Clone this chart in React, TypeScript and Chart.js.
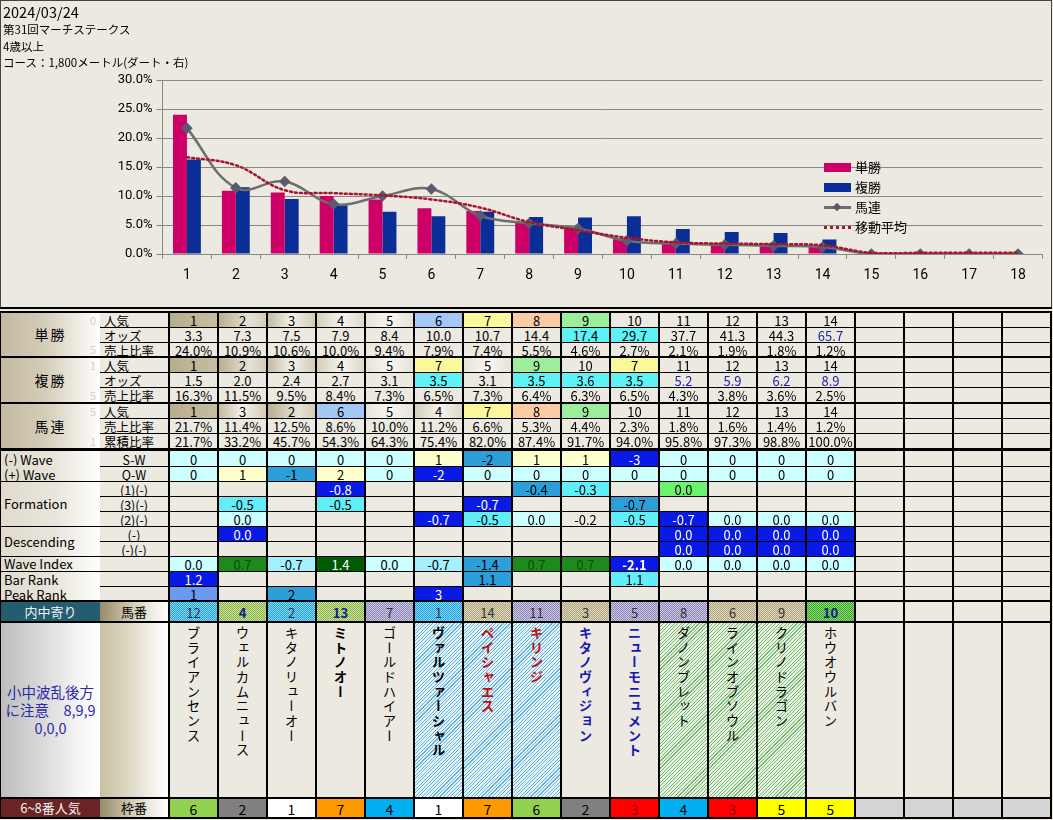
import React, { useEffect, useRef } from 'react';
import { Chart, registerables } from 'chart.js';

Chart.register(...registerables);

// ---------------- chart data ----------------
const categories = ['1', '2', '3', '4', '5', '6', '7', '8', '9', '10', '11', '12', '13', '14', '15', '16', '17', '18'];
const winShare = [24.0, 10.9, 10.6, 10.0, 9.4, 7.9, 7.4, 5.5, 4.6, 2.7, 2.1, 1.9, 1.8, 1.2, null, null, null, null];
const placeShare = [16.3, 11.5, 9.5, 8.4, 7.3, 6.5, 7.3, 6.4, 6.3, 6.5, 4.3, 3.8, 3.6, 2.5, null, null, null, null];
const quinellaShare = [21.7, 11.4, 12.5, 8.6, 10.0, 11.2, 6.6, 5.3, 4.4, 2.3, 1.8, 1.6, 1.4, 1.2, 0, 0, 0, 0];
const movingAverage = [16.7, 15.3, 11.0, 10.5, 10.1, 9.4, 8.0, 5.5, 4.1, 2.8, 2.0, 1.8, 1.7, 1.5, 0.2, 0.2, 0.2, 0.2];
const yAxisMax = 30;
const yAxisStep = 5;
const seriesNames = ['単勝', '複勝', '馬連', '移動平均'];

// ---------------- header texts ----------------
const titleLines = ['2024/03/24', '第31回マーチステークス', '4歳以上', 'コース：1,800メートル(ダート・右)'];

// ---------------- table data ----------------
const groupLabels = ['単勝', '複勝', '馬連'];
const upperSubLabels = ['人気', 'オッズ', '売上比率', '人気', 'オッズ', '売上比率', '人気', '売上比率', '累積比率'];
const faintDigits = ['0', '', '5', '1', '', '5', '5', '', '1'];
const winPopularity = [1, 2, 3, 4, 5, 6, 7, 8, 9, 10, 11, 12, 13, 14];
const winOdds = [3.3, 7.3, 7.5, 7.9, 8.4, 10.0, 10.7, 14.4, 17.4, 29.7, 37.7, 41.3, 44.3, 65.7];
const placePopularity = [1, 2, 3, 4, 5, 7, 5, 9, 10, 7, 11, 12, 13, 14];
const placeOdds = [1.5, 2.0, 2.4, 2.7, 3.1, 3.5, 3.1, 3.5, 3.6, 3.5, 5.2, 5.9, 6.2, 8.9];
const quinellaPopularity = [1, 3, 2, 6, 5, 4, 7, 8, 9, 10, 11, 12, 13, 14];
const quinellaCumulative = [21.7, 33.2, 45.7, 54.3, 64.3, 75.4, 82.0, 87.4, 91.7, 94.0, 95.8, 97.3, 98.8, 100.0];

const lowerLabels = ['(-) Wave', '(+) Wave', 'Formation', 'Descending', 'Wave Index', 'Bar Rank', 'Peak Rank'];
const lowerSubLabels = ['S-W', 'Q-W', '(1)(-)', '(3)(-)', '(2)(-)', '(-)', '(-)(-)', '', '', ''];
const sWave = [0, 0, 0, 0, 0, 1, -2, 1, 1, -3, 0, 0, 0, 0];
const qWave = [0, 1, -1, 2, 0, -2, 0, 0, 0, 0, 0, 0, 0, 0];
const formation1 = [null, null, null, -0.8, null, null, null, -0.4, -0.3, null, 0.0, null, null, null];
const formation3 = [null, -0.5, null, -0.5, null, null, -0.7, null, null, -0.7, null, null, null, null];
const formation2 = [null, 0.0, null, null, null, -0.7, -0.5, 0.0, -0.2, -0.5, -0.7, 0.0, 0.0, 0.0];
const descending1 = [null, 0.0, null, null, null, null, null, null, null, null, 0.0, 0.0, 0.0, 0.0];
const descending2 = [null, null, null, null, null, null, null, null, null, null, 0.0, 0.0, 0.0, 0.0];
const waveIndex = [0.0, 0.7, -0.7, 1.4, 0.0, -0.7, -1.4, 0.7, 0.7, -2.1, 0.0, 0.0, 0.0, 0.0];
const barRank = [1.2, null, null, null, null, null, 1.1, null, null, 1.1, null, null, null, null];
const peakRank = [1, null, 2, null, null, 3, null, null, null, null, null, null, null, null];

const horseNumbers = [12, 4, 2, 13, 7, 1, 14, 11, 3, 5, 8, 6, 9, 10];
const horseNames = ['ブライアンセンス', 'ウェルカムニュース', 'キタノリューオー', 'ミトノオー', 'ゴールドハイアー', 'ヴァルツァーシャル', 'ペイシャエス', 'キリンジ', 'キタノヴィジョン', 'ニューモニュメント', 'ダノンブレット', 'ラインオブソウル', 'クリノドラゴン', 'ホウオウルバン'];
const frameNumbers = [6, 2, 1, 7, 4, 1, 7, 6, 2, 3, 4, 3, 5, 5];
const noteLines = ['小中波乱後方', 'に注意　8,9,9', '0,0,0'];
const bottomLabels = ['内中寄り', '馬番', '6~8番人気', '枠番'];

// ---------------- styles ----------------
const BEIGE = '#ECE9E1';
const FONT = '"Noto Sans CJK JP", "Noto Sans", sans-serif';

const FILLS: Record<string, { bg: string; color?: string; bold?: boolean }> = {
  '.': { bg: BEIGE },
  c: { bg: '#CCFFFF' },
  y: { bg: '#FFFFCC' },
  m: { bg: '#2C9FD8' },
  B: { bg: '#0A1AE6', color: '#FFFFFF' },
  X: { bg: '#0A1AE6', color: '#FFFFFF', bold: true },
  a: { bg: '#62EEF8' },
  g: { bg: '#6CF46C' },
  G: { bg: '#1E8A1E', color: '#0A500A' },
  D: { bg: '#005A00', color: '#FFFFFF' },
  k: { bg: '#6A9AF2' },
  w: { bg: '#A4F0FF' },
};
const lowerFills = [
  'cccccymyyBcccc',
  'cymycBcccccccc',
  '...B...ma.g...',
  '.a.a..B..m....',
  '.c...Bac.aBccc',
  '.B........BBBB',
  '..........BBBB',
  'cGwDcwmGGXcccc',
  'B.....m..a....',
  'k.m..B........',
];
const horseNoFills = 'bgbglbtltllttG';
const nameFills = '.....hhh..ggg.';
const nameInks = '...K.Krrbb....';

const POP_GRAD = [
  'linear-gradient(90deg,#B8AE8E,#C6BDA0)',
  'linear-gradient(90deg,#B9AF8F 0%,#E6E2D6 65%,#D2CCB6 100%)',
  'linear-gradient(90deg,#C4BB9E 0%,#F3F1EB 50%,#D2CBB4 100%)',
  'linear-gradient(90deg,#D4CEB9 0%,#F6F4EF 55%,#DCD7C6 100%)',
  'linear-gradient(90deg,#E6E2D6 0%,#F8F7F3 50%,#E6E2D6 100%)',
];
function popStyle(r: number) {
  if (r <= 5) return { bg: POP_GRAD[r - 1] };
  if (r === 6) return { bg: '#A4C8F6' };
  if (r === 7) return { bg: '#FBF89C' };
  if (r === 8) return { bg: '#FACCA6' };
  if (r === 9) return { bg: '#9CEE9C' };
  return { bg: BEIGE };
}
const checker = (a: string, b: string) => `repeating-conic-gradient(${a} 0% 25%, ${b} 0% 50%) 0 0/2px 2px`;
const DOTS: Record<string, string> = {
  b: checker('#1EA2E0', '#8AD6F4'),
  g: checker('#86B246', '#CFE2A6'),
  l: checker('#8C84B6', '#CFCAE4'),
  t: checker('#AEA27A', '#E0DAC2'),
  G: checker('#36A426', '#92D87A'),
};
const HATCH: Record<string, string> = {
  '.': BEIGE,
  h: 'repeating-linear-gradient(135deg,#62B2DC 0px,#62B2DC 0.8px,#E4F4FA 0.8px,#E4F4FA 2.5px)',
  g: 'repeating-linear-gradient(135deg,#74B874 0px,#74B874 0.8px,#E8F2E0 0.8px,#E8F2E0 2.5px)',
};
const INKS: Record<string, { color: string; bold: boolean }> = {
  '.': { color: '#000', bold: false },
  K: { color: '#000', bold: true },
  r: { color: '#C01010', bold: true },
  b: { color: '#1818B0', bold: true },
};
const FRAME_COLORS: Record<number, string> = { 1: '#FFFFFF', 2: '#808080', 3: '#FF0000', 4: '#00B0F0', 5: '#FFFF00', 6: '#92D050', 7: '#FF9900', 8: '#FF99CC' };

// ---------------- layout ----------------
const COL_X0 = 170;
const COL_PITCH = 49;
const COL_W = 47;
const NCOLS = 18;
const upperRows = [
  { top: 313, h: 14 }, { top: 328, h: 14 }, { top: 343, h: 13 },
  { top: 358, h: 14 }, { top: 373, h: 14 }, { top: 388, h: 14 },
  { top: 404, h: 14 }, { top: 419, h: 14 }, { top: 434, h: 14 },
];
const lowerRows = [
  { top: 451, h: 15 }, { top: 467, h: 14 }, { top: 482, h: 14 }, { top: 497, h: 14 }, { top: 512, h: 14 },
  { top: 527, h: 14 }, { top: 542, h: 14 }, { top: 557, h: 14 }, { top: 572, h: 14 }, { top: 587, h: 13 },
];
const NO_ROW = { top: 602, h: 19 };
const NAME_ROW = { top: 623, h: 174 };
const FRAME_ROW = { top: 799, h: 18 };

type CellSpec = { t?: string; bg?: string; color?: string; bold?: boolean };

function box(key: string, x: number, y: number, w: number, h: number, style: React.CSSProperties = {}, children?: React.ReactNode) {
  return (
    <div key={key} style={{ position: 'absolute', left: x, top: y, width: w, height: h, overflow: 'hidden', boxSizing: 'border-box', ...style }}>
      {children}
    </div>
  );
}

function dataRow(key: string, top: number, h: number, cells: CellSpec[], blankBg = BEIGE, fontSize = 13) {
  const out: React.ReactNode[] = [];
  for (let i = 0; i < NCOLS; i++) {
    const c = i < cells.length ? cells[i] : { bg: blankBg };
    out.push(
      box(`${key}-${i}`, COL_X0 + COL_PITCH * i, top, COL_W, h, {
        background: c.bg || BEIGE,
        color: c.color || '#000',
        fontWeight: c.bold ? 700 : 400,
        fontSize,
        lineHeight: `${h + 2}px`,
        textAlign: 'center',
        whiteSpace: 'nowrap',
      }, c.t)
    );
  }
  return out;
}

const pct = (v: number | null) => (v == null ? '' : v.toFixed(1) + '%');
const dec = (v: number | null) => (v == null ? '' : v.toFixed(1));
const int = (v: number | null) => (v == null ? '' : String(v));

export default function App() {
  const canvasRef = useRef<HTMLCanvasElement>(null);

  useEffect(() => {
    const canvas = canvasRef.current;
    if (!canvas) return;
    const chart = new Chart(canvas, {
      type: 'bar',
      data: {
        labels: categories,
        datasets: [
          {
            type: 'bar', label: seriesNames[0], data: winShare, backgroundColor: '#CC0066',
            categoryPercentage: 0.57, barPercentage: 1, order: 3,
          },
          {
            type: 'bar', label: seriesNames[1], data: placeShare, backgroundColor: '#0A2E96',
            categoryPercentage: 0.57, barPercentage: 1, order: 4,
          },
          {
            type: 'line', label: seriesNames[2], data: quinellaShare, borderColor: '#6E6E6E', borderWidth: 2.5,
            pointStyle: 'rectRot', pointRadius: 4, pointBackgroundColor: '#5A5A70', pointBorderColor: '#5A5A70',
            tension: 0.4, fill: false, order: 2,
          },
          {
            type: 'line', label: seriesNames[3], data: movingAverage, borderColor: '#A8142C', borderWidth: 2.5,
            borderDash: [2, 3], borderCapStyle: 'round', pointRadius: 0, tension: 0.4, fill: false, order: 1,
          },
        ] as any,
      },
      options: {
        animation: false,
        responsive: false,
        maintainAspectRatio: false,
        layout: { padding: { left: 110, right: 9.5, top: 80, bottom: 0 } },
        plugins: { legend: { display: false }, tooltip: { enabled: false } },
        scales: {
          x: {
            offset: true,
            grid: { drawOnChartArea: false, drawTicks: true, tickLength: 5, color: '#888888', offset: true },
            border: { display: true, color: '#888888', width: 1 },
            ticks: { color: '#000', padding: 8, maxRotation: 0, font: { family: 'Roboto', size: 14 } },
            afterFit: (s: any) => { s.height = 53; },
          },
          y: {
            min: 0,
            max: yAxisMax,
            ticks: {
              stepSize: yAxisStep, color: '#000', padding: 4, font: { family: 'Roboto', size: 13 },
              callback: (v: any) => Number(v).toFixed(1) + '%',
            },
            grid: { color: '#888888', tickLength: 6, drawTicks: true },
            border: { display: true, color: '#888888', width: 1 },
            afterFit: (s: any) => { s.width = 52.5; },
          },
        },
      } as any,
    });
    return () => chart.destroy();
  }, []);

  const els: React.ReactNode[] = [];

  // table background (black lines)
  els.push(box('tbl', 0, 311, 1052, 508, { background: '#000' }));

  // upper label blocks
  const groupGrad = 'linear-gradient(90deg,#C3BA9E 0%,#D4CDB9 45%,#F4F2EC 85%,#FFFFFF 100%)';
  for (let g = 0; g < 3; g++) {
    const r0 = upperRows[g * 3];
    const r2 = upperRows[g * 3 + 2];
    const h = r2.top + r2.h - r0.top;
    els.push(box(`gl${g}`, 1, r0.top, 99, h, {
      background: groupGrad, fontSize: 14, letterSpacing: '2px', lineHeight: `${h}px`, textAlign: 'center', color: '#000',
    }, groupLabels[g]));
  }
  upperRows.forEach((r, i) => {
    if (faintDigits[i]) {
      els.push(box(`fd${i}`, 90, r.top, 10, r.h, { fontSize: 11, lineHeight: `${r.h}px`, color: '#D6D2C6' }, faintDigits[i]));
    }
    els.push(box(`usl${i}`, 100, r.top, 68, r.h, {
      background: BEIGE, fontSize: 12.5, lineHeight: `${r.h + 2}px`, paddingLeft: 4, color: '#000', whiteSpace: 'nowrap',
    }, upperSubLabels[i]));
  });

  // upper data rows
  const upperCells: CellSpec[][] = [
    winPopularity.map((p) => ({ t: int(p), ...popStyle(p) })),
    winOdds.map((o) => ({ t: dec(o), bg: o >= 15 && o < 30 ? '#5EF2F7' : BEIGE, color: o >= 50 ? '#2020B0' : '#000' })),
    winShare.slice(0, 14).map((v) => ({ t: pct(v) })),
    placePopularity.map((p) => ({ t: int(p), ...popStyle(p) })),
    placeOdds.map((o) => ({ t: dec(o), bg: o >= 3.5 && o < 5 ? '#5EF2F7' : BEIGE, color: o >= 5 ? '#2020B0' : '#000' })),
    placeShare.slice(0, 14).map((v) => ({ t: pct(v) })),
    quinellaPopularity.map((p) => ({ t: int(p), ...popStyle(p) })),
    quinellaShare.slice(0, 14).map((v) => ({ t: pct(v) })),
    quinellaCumulative.map((v) => ({ t: pct(v) })),
  ];
  upperRows.forEach((r, i) => els.push(...dataRow(`u${i}`, r.top, r.h, upperCells[i])));

  // lower label blocks
  const lowGrad = 'linear-gradient(90deg,#E0DBCD 0%,#E9E5DB 55%,#F7F6F2 85%,#FFFFFF 100%)';
  const blocks: { rows: number[]; texts: string[]; merged: boolean }[] = [
    { rows: [0, 1], texts: [lowerLabels[0], lowerLabels[1]], merged: false },
    { rows: [2, 3, 4], texts: [lowerLabels[2]], merged: true },
    { rows: [5, 6], texts: [lowerLabels[3]], merged: true },
    { rows: [7], texts: [lowerLabels[4]], merged: true },
    { rows: [8, 9], texts: [lowerLabels[5], lowerLabels[6]], merged: false },
  ];
  blocks.forEach((b, bi) => {
    const first = lowerRows[b.rows[0]];
    const last = lowerRows[b.rows[b.rows.length - 1]];
    const h = last.top + last.h - first.top;
    els.push(box(`lb${bi}`, 1, first.top, 99, h, { background: lowGrad }));
    if (b.merged) {
      els.push(box(`lbt${bi}`, 1, first.top, 99, h, { fontSize: 13, lineHeight: `${h}px`, paddingLeft: 3, color: '#000', whiteSpace: 'nowrap' }, b.texts[0]));
    } else {
      b.texts.forEach((t, ti) => {
        const r = lowerRows[b.rows[ti]];
        els.push(box(`lbt${bi}-${ti}`, 1, r.top, 99, r.h, { fontSize: 13, lineHeight: `${r.h + 2}px`, paddingLeft: 3, color: '#000', whiteSpace: 'nowrap' }, t));
      });
    }
  });
  lowerRows.forEach((r, i) => {
    els.push(box(`lsl${i}`, 100, r.top, 68, r.h, {
      background: BEIGE, fontSize: 12.5, lineHeight: `${r.h + 2}px`, textAlign: 'center', color: '#000', whiteSpace: 'nowrap',
    }, lowerSubLabels[i]));
  });

  const lowerValues: { vals: (number | null)[]; fmt: (v: number | null) => string }[] = [
    { vals: sWave, fmt: int }, { vals: qWave, fmt: int },
    { vals: formation1, fmt: dec }, { vals: formation3, fmt: dec }, { vals: formation2, fmt: dec },
    { vals: descending1, fmt: dec }, { vals: descending2, fmt: dec },
    { vals: waveIndex, fmt: dec }, { vals: barRank, fmt: dec }, { vals: peakRank, fmt: int },
  ];
  lowerRows.forEach((r, i) => {
    const lv = lowerValues[i];
    const cells: CellSpec[] = lv.vals.map((v, ci) => {
      const f = FILLS[lowerFills[i][ci]] || FILLS['.'];
      return { t: lv.fmt(v), bg: f.bg, color: f.color, bold: f.bold };
    });
    els.push(...dataRow(`l${i}`, r.top, r.h, cells));
  });

  // 馬番 row
  const tanGrad = 'linear-gradient(90deg,#968B68 0%,#CFC8B2 45%,#F2F0EA 80%,#FFFFFF 100%)';
  els.push(box('noL', 1, NO_ROW.top, 99, NO_ROW.h, { background: '#245C70', color: '#F0F4F4', fontSize: 13, lineHeight: `${NO_ROW.h}px`, textAlign: 'center' }, bottomLabels[0]));
  els.push(box('noS', 100, NO_ROW.top, 68, NO_ROW.h, { background: tanGrad, color: '#000', fontSize: 13, lineHeight: `${NO_ROW.h}px`, textAlign: 'center' }, bottomLabels[1]));
  els.push(...dataRow('no', NO_ROW.top, NO_ROW.h, horseNumbers.map((n, i) => {
    const code = horseNoFills[i];
    const strong = code === 'g' || code === 'G';
    return { t: String(n), bg: DOTS[code], color: strong ? '#10208A' : '#333', bold: strong };
  })));

  // names row
  els.push(box('nmL', 1, NAME_ROW.top, 99, NAME_ROW.h, {
    background: 'linear-gradient(90deg,#BDBDBD 0%,#DCDCDC 45%,#F6F6F6 80%,#FFFFFF 100%)',
    display: 'flex', flexDirection: 'column', justifyContent: 'center', alignItems: 'center',
    color: '#2A2AA8', fontSize: 14.5, lineHeight: '18px', textAlign: 'center',
  }, noteLines.map((l, i) => <div key={i} style={{ whiteSpace: 'pre' }}>{l}</div>)));
  els.push(box('nmS', 100, NAME_ROW.top, 68, NAME_ROW.h, { background: 'linear-gradient(90deg,#C9C0A0 0%,#E2DDCC 50%,#F8F7F3 85%,#FFFFFF 100%)' }));
  for (let i = 0; i < NCOLS; i++) {
    const hasName = i < horseNames.length;
    const bg = hasName ? HATCH[nameFills[i]] : BEIGE;
    const ink = hasName ? INKS[nameInks[i]] : INKS['.'];
    els.push(box(`nm${i}`, COL_X0 + COL_PITCH * i, NAME_ROW.top, COL_W, NAME_ROW.h, {
      background: bg, display: 'flex', justifyContent: 'center', alignItems: 'flex-start',
    }, hasName ? (
      <div style={{
        writingMode: 'vertical-rl', textOrientation: 'upright', fontSize: 13.5, lineHeight: '16px',
        letterSpacing: '1.2px', paddingTop: 3, color: ink.color, fontWeight: ink.bold ? 700 : 400, whiteSpace: 'nowrap',
      }}>{horseNames[i]}</div>
    ) : null));
  }

  // 枠番 row
  els.push(box('frL', 1, FRAME_ROW.top, 99, FRAME_ROW.h, { background: '#6A2424', color: '#F4EEEE', fontSize: 13, lineHeight: `${FRAME_ROW.h}px`, textAlign: 'center' }, bottomLabels[2]));
  els.push(box('frS', 100, FRAME_ROW.top, 68, FRAME_ROW.h, { background: tanGrad, color: '#000', fontSize: 13, lineHeight: `${FRAME_ROW.h}px`, textAlign: 'center' }, bottomLabels[3]));
  els.push(...dataRow('fr', FRAME_ROW.top, FRAME_ROW.h, frameNumbers.map((f) => ({
    t: String(f), bg: FRAME_COLORS[f], color: f === 3 ? '#900000' : '#000',
  })), '#D4D4D4', 14));

  return (
    <div style={{ position: 'relative', width: 1053, height: 820, background: BEIGE, overflow: 'hidden', fontFamily: FONT }}>
      <style>{'html,body{margin:0;padding:0;background:#ECE9E1;}'}</style>
      <canvas ref={canvasRef} width={1052} height={307} style={{ position: 'absolute', left: 0, top: 0, width: 1052, height: 307 }} />
      {/* chart panel frame */}
      {box('fT', 0, 0, 1052, 1, { background: '#444' })}
      {box('fL', 0, 0, 1, 309, { background: '#444' })}
      {box('fR', 1051, 0, 1, 309, { background: '#444' })}
      {box('fB', 0, 307, 1052, 2, { background: '#000' })}
      {/* title */}
      {titleLines.map((t, i) => box(`tt${i}`, 3, [3, 21, 38, 54][i], 400, 17, {
        fontSize: i === 0 ? 14.5 : 11.5, lineHeight: '17px', color: '#000', whiteSpace: 'nowrap', overflow: 'visible',
      }, t))}
      {/* legend */}
      <div style={{ position: 'absolute', left: 824, top: 157, fontSize: 13, color: '#000' }}>
        {seriesNames.map((n, i) => (
          <div key={n} style={{ display: 'flex', alignItems: 'center', height: 20 }}>
            <div style={{ position: 'relative', width: 27, height: 10, marginRight: 4 }}>
              {i === 0 && <div style={{ position: 'absolute', left: 0, top: 1, width: 27, height: 9, background: '#CC0066' }} />}
              {i === 1 && <div style={{ position: 'absolute', left: 0, top: 1, width: 27, height: 9, background: '#0A2E96' }} />}
              {i === 2 && (
                <>
                  <div style={{ position: 'absolute', left: 0, top: 4, width: 27, height: 2.5, background: '#6E6E6E' }} />
                  <div style={{ position: 'absolute', left: 10, top: 2, width: 6, height: 6, background: '#5A5A70', transform: 'rotate(45deg)' }} />
                </>
              )}
              {i === 3 && <div style={{ position: 'absolute', left: 0, top: 4, width: 27, height: 0, borderTop: '3px dotted #A8142C' }} />}
            </div>
            <span style={{ lineHeight: '20px' }}>{n}</span>
          </div>
        ))}
      </div>
      {els}
    </div>
  );
}
